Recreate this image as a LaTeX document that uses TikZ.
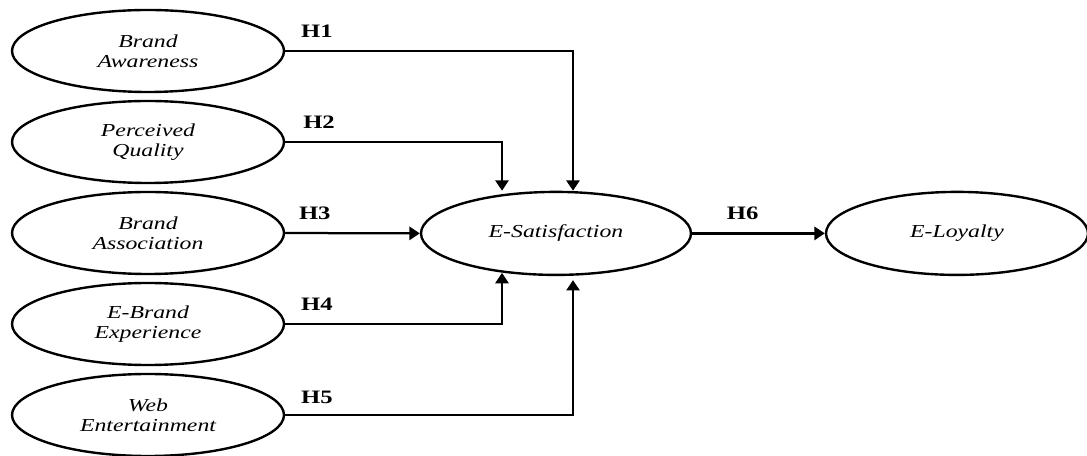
\documentclass[tikz,border=0pt]{standalone}
\usepackage{fontspec}
\setmainfont[FakeStretch=1.3]{Liberation Serif}
\usetikzlibrary{shapes.geometric,arrows.meta}

\begin{document}
\begin{tikzpicture}[
        construct/.style={draw, ellipse, line width=1.7pt, inner sep=0pt, minimum width=6.8cm, minimum height=2.05cm, align=center, font=\fontsize{13}{14}\selectfont\itshape},
        hpath/.style={line width=1.6pt, -{Triangle[length=0.26cm, width=0.33cm]}},
        hyp/.style={font=\fontsize{13.5}{14}\selectfont\bfseries}]
            \useasboundingbox (0,0) rectangle (27.175,11.375);
            \node [construct] (aware) at (3.7,10.1) {Brand\\Awareness};
            \node [construct] (quality) at (3.7,7.825) {Perceived\\Quality};
            \node [construct] (assoc) at (3.7,5.55) {Brand\\Association};
            \node [construct] (exper) at (3.7,3.275) {E-Brand\\Experience};
            \node [construct] (enter) at (3.7,1.0) {Web\\Entertainment};
            \node [construct, minimum width=6.75cm, minimum height=2.075cm] (sat) at (13.9,5.54) {E-Satisfaction};
            \node [construct, minimum width=6.55cm, minimum height=2.075cm] (loyal) at (23.925,5.54) {E-Loyalty};
            \coordinate (sat n1) at ([xshift=-1.35cm]sat.north);
            \coordinate (sat n2) at ([xshift=0.425cm]sat.north);
            \coordinate (sat s1) at ([xshift=-1.35cm, yshift=0.08cm]sat.south);
            \coordinate (sat s2) at ([xshift=0.425cm, yshift=-0.1cm]sat.south);
            \draw [hpath] (aware.east) -| node [hyp, above=0.2cm, pos=0.055] {H1} (sat n2);
            \draw [hpath] (quality.east) -| node [hyp, above=0.2cm, pos=0.078] {H2} (sat n1);
            \draw [hpath] (assoc.east) -- node [hyp, above=0.2cm, pos=0.22] {H3} (sat.west);
            \draw [hpath] (exper.east) -| node [hyp, above=0.2cm, pos=0.073] {H4} (sat s1);
            \draw [hpath] (enter.east) -| node [hyp, above=0.15cm, pos=0.055] {H5} (sat s2);
            \draw [hpath] (sat.east) -- node [hyp, above=0.2cm, pos=0.38] {H6} (loyal.west);
        \end{tikzpicture}
\end{document}
